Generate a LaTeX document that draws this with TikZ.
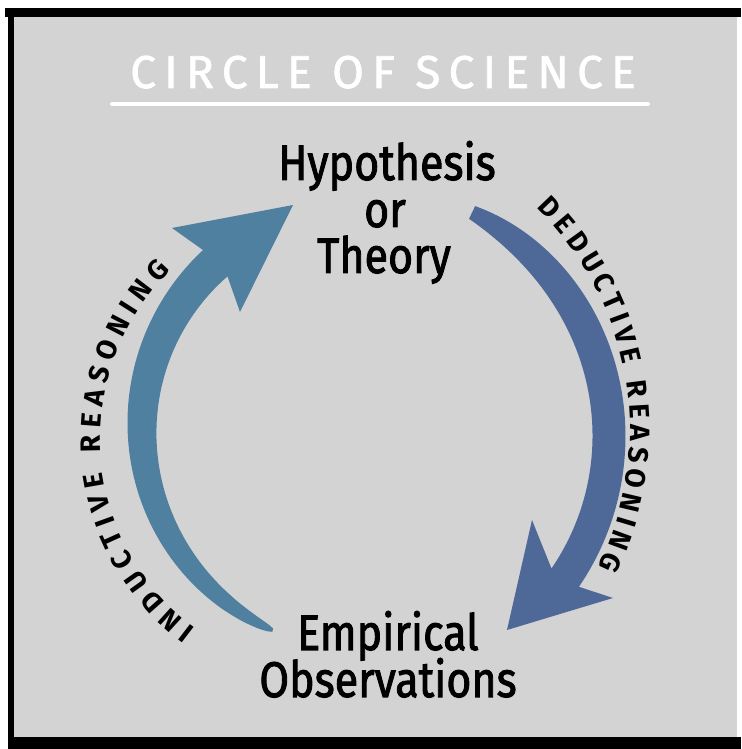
\documentclass[tikz,border=0pt]{standalone}
\usepackage{fontspec}
\setmainfont{Fira Sans}
\newfontfamily\lblfont[FakeBold=2]{Fira Sans}
\newfontfamily\titlefont[LetterSpace=18,FakeBold=1.5]{Fira Sans}
\usetikzlibrary{decorations.text}
\definecolor{bggray}{RGB}{211,211,211}
\definecolor{indblue}{RGB}{80,128,160}
\definecolor{dedblue}{RGB}{78,104,152}
\begin{document}
\begin{tikzpicture}[x=1pt,y=1pt,
  lbl/.style={font=\lblfont\fontsize{50}{60}\selectfont, inner sep=0pt, anchor=base, text=black},
  titlestyle/.style={font=\titlefont\fontsize{46}{52}\selectfont, inner sep=0pt, anchor=base, text=white},
  arctext/.style={decorate, decoration={text along path, text align={fit to path}, text color=black}}]
\useasboundingbox (0,0) rectangle (741,749);
% frame
\fill[white] (0,0) rectangle (741,749);
\fill[bggray] (10,8) rectangle (737,737);
\fill[black] (5,732) rectangle (741,741);
\fill[black] (8,0) rectangle (14,741);
\fill[black] (8,0) rectangle (741,12);
% title
\node[titlestyle] (title) at (383,661) {CIRCLE OF SCIENCE};
\coordinate (ulA) at (112,645);
\coordinate (ulB) at (648,645);
\draw[white, line width=4pt, line cap=round] (ulA) -- (ulB);
% left arrow (inductive)
\fill[indblue]
  plot[domain=0.002:1, samples=90] ({364+(222+18*(\x)^0.4)*cos(246-114*\x)}, {321+(222+18*(\x)^0.4)*sin(246-114*\x)})
  -- (172,521) -- (293,544) -- (240,437)
  -- plot[domain=1:0.002, samples=90] ({364+(222-18*(\x)^0.4)*cos(246-114*\x)}, {321+(222-18*(\x)^0.4)*sin(246-114*\x)})
  -- cycle;
% right arrow (deductive)
\fill[dedblue]
  plot[domain=0:0.999, samples=90] ({358+(251+0.5*(33-19*(1-\x)^6))*cos(63-97.5*\x)}, {313+(251+0.5*(33-19*(1-\x)^6))*sin(63-97.5*\x)})
  -- (613,151) -- (507,119) -- (532,229)
  -- plot[domain=0.999:0, samples=90] ({358+(251-0.5*(33-19*(1-\x)^6))*cos(63-97.5*\x)}, {313+(251-0.5*(33-19*(1-\x)^6))*sin(63-97.5*\x)})
  -- cycle;
% arc labels
\path[arctext, decoration={text={|\fontsize{28}{28}\selectfont\bfseries|INDUCTIVE REASONING}}]
  ({336+236*cos(233.5)},{310+236*sin(233.5)}) arc[start angle=233.5, end angle=134.5, radius=236];
\path[arctext, decoration={text={|\fontsize{28}{28}\selectfont\bfseries|DEDUCTIVE REASONING}}]
  ({318+312*cos(45.5)},{319+312*sin(45.5)}) arc[start angle=45.5, end angle=-26, radius=312];
% main labels
\node[lbl] (hyp1) at (387,569) {\scalebox{0.86}[1]{Hypothesis}};
\node[lbl] (hyp2) at (385,522) {\scalebox{0.86}[1]{or}};
\node[lbl] (hyp3) at (384,476) {\scalebox{0.86}[1]{Theory}};
\node[lbl] (emp1) at (388,99) {\scalebox{0.86}[1]{Empirical}};
\node[lbl] (emp2) at (388,52) {\scalebox{0.86}[1]{Observations}};
\end{tikzpicture}
\end{document}
